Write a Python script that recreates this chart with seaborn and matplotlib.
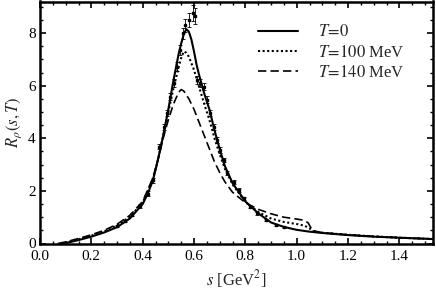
import matplotlib
matplotlib.use("Agg")
import matplotlib.pyplot as plt
import numpy as np
import pandas as pd
import seaborn as sns
from matplotlib.ticker import MultipleLocator

# curves, s in GeV^2
s_t0 = [0.09, 0.10, 0.12, 0.15, 0.20, 0.25, 0.30, 0.35, 0.40, 0.42, 0.44, 0.46, 0.48, 0.50,
        0.52, 0.54, 0.55, 0.56, 0.57, 0.58, 0.59, 0.60, 0.61, 0.62, 0.64, 0.66, 0.68, 0.70,
        0.72, 0.75, 0.80, 0.85, 0.90, 0.95, 1.00, 1.05, 1.10, 1.20, 1.30, 1.40, 1.53]
r_t0 = [0.00, 0.02, 0.06, 0.13, 0.26, 0.42, 0.62, 0.95, 1.50, 1.90, 2.40, 3.20, 4.10, 5.10,
        6.20, 7.20, 7.60, 7.95, 8.15, 8.05, 7.75, 7.30, 6.80, 6.40, 5.70, 5.10, 4.30, 3.60,
        2.95, 2.30, 1.60, 1.15, 0.80, 0.63, 0.52, 0.45, 0.40, 0.32, 0.26, 0.22, 0.17]

s_t100 = [0.08, 0.10, 0.15, 0.20, 0.25, 0.30, 0.35, 0.40, 0.44, 0.46, 0.48, 0.50, 0.52,
          0.54, 0.55, 0.56, 0.57, 0.58, 0.60, 0.62, 0.64, 0.66, 0.68, 0.70, 0.72, 0.75,
          0.80, 0.85, 0.90, 0.95, 1.00, 1.03, 1.05, 1.06, 1.10, 1.20, 1.30, 1.40, 1.53]
r_t100 = [0.00, 0.04, 0.16, 0.30, 0.46, 0.68, 1.02, 1.55, 2.45, 3.20, 4.10, 5.00, 5.90,
          6.70, 7.05, 7.30, 7.25, 7.10, 6.60, 5.95, 5.30, 4.70, 4.00, 3.40, 2.85, 2.25,
          1.58, 1.20, 0.95, 0.82, 0.74, 0.68, 0.58, 0.48, 0.41, 0.33, 0.27, 0.22, 0.17]

s_t140 = [0.07, 0.10, 0.15, 0.20, 0.25, 0.30, 0.35, 0.40, 0.44, 0.46, 0.48, 0.50, 0.52,
          0.54, 0.55, 0.56, 0.58, 0.60, 0.62, 0.64, 0.66, 0.68, 0.70, 0.72, 0.75, 0.80,
          0.85, 0.90, 0.95, 1.00, 1.03, 1.045, 1.06, 1.08, 1.10, 1.20, 1.30, 1.40, 1.53]
r_t140 = [0.00, 0.06, 0.19, 0.33, 0.50, 0.73, 1.07, 1.60, 2.50, 3.20, 4.00, 4.70, 5.30,
          5.75, 5.85, 5.80, 5.50, 5.10, 4.60, 4.10, 3.60, 3.10, 2.70, 2.35, 1.95, 1.55,
          1.30, 1.13, 1.00, 0.93, 0.88, 0.78, 0.52, 0.45, 0.41, 0.33, 0.27, 0.22, 0.17]

# measured points with errors
data_s = [0.30, 0.33, 0.36, 0.39, 0.42, 0.44, 0.462, 0.482, 0.495, 0.508, 0.521, 0.534,
          0.547, 0.557, 0.566, 0.579, 0.596, 0.605, 0.612, 0.625, 0.638, 0.651, 0.664,
          0.677, 0.690, 0.703, 0.716, 0.729, 0.755, 0.775, 0.794, 0.820, 0.846, 0.879,
          0.918, 0.950]
data_r = [0.66, 0.85, 1.10, 1.42, 1.90, 2.40, 3.68, 4.44, 4.95, 5.58, 6.09, 6.72,
          7.36, 7.99, 8.30, 8.50, 8.77, 8.65, 6.20, 6.10, 5.96, 5.46, 4.95,
          4.44, 3.94, 3.55, 3.17, 2.67, 2.35, 2.03, 1.72, 1.40, 1.15, 0.89,
          0.70, 0.62]
data_err = [0.05, 0.05, 0.06, 0.07, 0.08, 0.09, 0.10, 0.12, 0.12, 0.14, 0.15, 0.18,
            0.20, 0.22, 0.25, 0.28, 0.30, 0.30, 0.15, 0.15, 0.14, 0.13, 0.12,
            0.12, 0.11, 0.10, 0.09, 0.08, 0.07, 0.07, 0.06, 0.05, 0.05, 0.05,
            0.04, 0.04]

curves = pd.concat([
    pd.DataFrame({"s": s_t0, "R": r_t0, "T": "T0"}),
    pd.DataFrame({"s": s_t100, "R": r_t100, "T": "T100"}),
    pd.DataFrame({"s": s_t140, "R": r_t140, "T": "T140"}),
])

sns.set_theme(style="ticks")
plt.rcParams["font.family"] = ["Liberation Serif", "DejaVu Serif"]
plt.rcParams["mathtext.fontset"] = "stix"

fig = plt.figure(figsize=(4.36, 2.91), dpi=100)
ax = fig.add_axes([40 / 436, 47.5 / 291, 392.7 / 436, 242 / 291])

ax.errorbar(data_s, data_r, yerr=data_err, fmt="s", ms=1.7, color="black",
            ecolor="black", elinewidth=0.6, capsize=1.4, capthick=0.6, zorder=3)

styles = {
    "T0": ("-", r"$T\!=\!0$", 1.5),
    "T100": ((0, (1, 1.2)), r"$T\!=\!100$ MeV", 1.5),
    "T140": ((0, (5, 2.5)), r"$T\!=\!140$ MeV", 1.2),
}
for key, (ls, label, lw) in styles.items():
    sub = curves[curves["T"] == key]
    sns.lineplot(data=sub, x="s", y="R", ax=ax, color="black", linestyle=ls,
                 linewidth=lw, label=label, sort=False, estimator=None, zorder=4)

ax.set_xlim(0, 1.53)
ax.set_ylim(0, 9.2)
ax.xaxis.set_major_locator(MultipleLocator(0.2))
ax.xaxis.set_minor_locator(MultipleLocator(0.05))
ax.yaxis.set_major_locator(MultipleLocator(2))
ax.yaxis.set_minor_locator(MultipleLocator(0.5))
ax.set_xticks(np.arange(0, 1.41, 0.2))
ax.set_xticklabels([f"{v:.1f}" for v in np.arange(0, 1.41, 0.2)])
ax.tick_params(which="both", direction="in", top=True, right=True, labelsize=11,
               color="black", labelcolor="black")
ax.tick_params(axis="x", pad=5)
ax.tick_params(axis="y", pad=3)
ax.tick_params(which="major", length=4, width=1.2)
ax.tick_params(which="minor", length=2.5, width=1.0)
for sp in ax.spines.values():
    sp.set_linewidth(1.8)
    sp.set_color("black")

ax.set_xlabel(r"$s$ [GeV$^2$]", fontsize=12, labelpad=3)
ax.set_ylabel(r"$R_\rho(s,T)$", fontsize=12, labelpad=3)

leg = ax.legend(loc="upper left", bbox_to_anchor=(0.555, 0.905), frameon=False,
                borderpad=0, borderaxespad=0, fontsize=12, handlelength=2.4,
                handletextpad=1.2, labelspacing=0.25)

fig.savefig("out.png", dpi=100)
